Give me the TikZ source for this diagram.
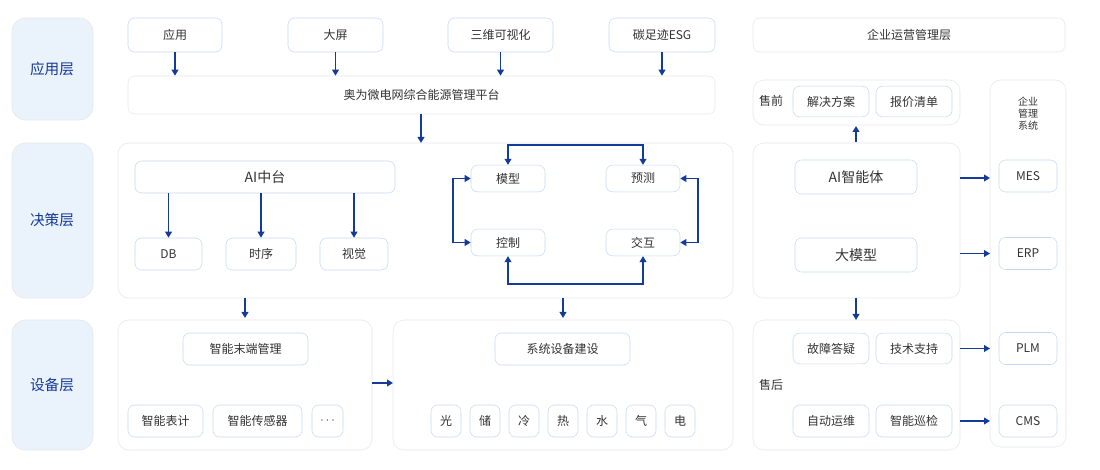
\documentclass[tikz,border=0pt]{standalone}
\usepackage{fontspec}
\setmainfont{Noto Sans CJK SC}
\usepackage{tikz}
\usetikzlibrary{arrows.meta}
\definecolor{lineblue}{HTML}{C4D8F4}
\definecolor{greyline}{HTML}{E4E7EC}
\definecolor{layerfill}{HTML}{EAF2FC}
\definecolor{arrowblue}{HTML}{143A9A}
\definecolor{txt}{HTML}{333333}
\begin{document}
\begin{tikzpicture}[x=0.75pt,y=-0.75pt,>={Triangle[length=4.5pt,width=5pt]}]
      \tikzstyle{sz}=[minimum width=#1*0.75pt];
      \tikzstyle{box}=[rounded corners=5pt,draw=lineblue,fill=white,text=txt,font=\fontsize{9}{10}\selectfont,inner sep=0pt];
      \tikzstyle{frame}=[rounded corners=8pt,draw=greyline,fill=white];
      \tikzstyle{layer}=[rounded corners=10pt,draw=greyline,fill=layerfill,text=arrowblue,font=\fontsize{11}{12}\selectfont];
      \tikzstyle{arr}=[->,draw=arrowblue,line width=1.3pt];
      \tikzstyle{lab}=[text=txt,font=\fontsize{9}{10}\selectfont,inner sep=0pt];

      \useasboundingbox (0,0) rectangle (1100,470);

      % layers
      \draw[layer] (12,18) rectangle (93,120); \node[text=arrowblue,font=\fontsize{11}{12}\selectfont] (l1) at (52,69) {应用层};
      \draw[layer] (12,143) rectangle (93,298); \node[text=arrowblue,font=\fontsize{11}{12}\selectfont] (l2) at (52,220) {决策层};
      \draw[layer] (12,320) rectangle (93,450); \node[text=arrowblue,font=\fontsize{11}{12}\selectfont] (l3) at (52,385) {设备层};

      % frames
      \draw[frame] (118,143) rectangle (733,298);
      \draw[frame] (118,320) rectangle (372,450);
      \draw[frame] (393,320) rectangle (733,450);
      \draw[frame] (753,80) rectangle (960,125);
      \draw[frame] (753,143) rectangle (960,298);
      \draw[frame] (753,320) rectangle (960,450);
      \draw[frame] (990,80) rectangle (1066,447);
      \coordinate (f1b) at (421,143);
      \coordinate (f2t) at (245,298);
      \coordinate (f3t) at (563,298);

      % application layer
      \node[box,sz=94,minimum height=25.5pt](app) at (175,35) {应用};
      \node[box,sz=95,minimum height=25.5pt](scr) at (335.5,35) {大屏};
      \node[box,sz=105,minimum height=25.5pt](vis) at (500.5,35) {三维可视化};
      \node[box,sz=106,minimum height=25.5pt](esg) at (662,35) {碳足迹ESG};
      \node[box,draw=greyline,sz=312,minimum height=25.5pt](ent) at (909,35) {企业运营管理层};
      \node[box,draw=greyline,sz=587,minimum height=28.5pt](plat) at (421.5,95) {奥为微电网综合能源管理平台};

      % decision layer
      \node[box,sz=260,minimum height=24pt,font=\fontsize{10.5}{12}\selectfont](ai) at (265,177) {AI中台};
      \node[box,sz=67,minimum height=24pt](db) at (168.5,254) {DB};
      \node[box,sz=70,minimum height=24pt](ts) at (261,254) {时序};
      \node[box,sz=68,minimum height=24pt](cv) at (354,254) {视觉};
      \node[box,sz=74,minimum height=20pt](mdl) at (508,178.5) {模型};
      \node[box,sz=74,minimum height=20pt](pre) at (643,178.5) {预测};
      \node[box,sz=74,minimum height=20pt](ctl) at (508,242.5) {控制};
      \node[box,sz=74,minimum height=20pt](itr) at (643,242.5) {交互};

      % device layer
      \node[box,sz=125,minimum height=24pt](term) at (245.5,349) {智能末端管理};
      \node[box,sz=75,minimum height=24pt](meter) at (165.5,421) {智能表计};
      \node[box,sz=89,minimum height=24pt](sens) at (257.5,421) {智能传感器};
      \node[box,sz=31,minimum height=24pt](more) at (327.5,421) {$\cdots$};
      \node[box,sz=135,minimum height=24pt](sys) at (562.5,349) {系统设备建设};
      \foreach \t [count=\i] in {光,储,冷,热,水,气,电}
        \node[box,sz=30,minimum height=24pt](d\i) at (407+39*\i,421) {\t};

      % right side
      \node[lab](pres) at (771,101) {售前};
      \node[box,sz=76,minimum height=23pt](sol) at (831,101.5) {解决方案};
      \node[box,sz=76,minimum height=23pt](quo) at (914,101.5) {报价清单};
      \node[box,sz=122,minimum height=25.5pt,font=\fontsize{10.5}{12}\selectfont](agent) at (856,177) {AI智能体};
      \node[box,sz=122,minimum height=25.5pt,font=\fontsize{10.5}{12}\selectfont](llm) at (856,255) {大模型};
      \node[lab](after) at (771,385) {售后};
      \node[box,sz=76,minimum height=23pt](faq) at (831,348.5) {故障答疑};
      \node[box,sz=76,minimum height=23pt](sup) at (914,348.5) {技术支持};
      \node[box,sz=76,minimum height=24pt](ops) at (831,421) {自动运维};
      \node[box,sz=76,minimum height=24pt](ins) at (914,421) {智能巡检};
      \node[lab,align=center,font=\fontsize{7.5}{9}\selectfont](erp0) at (1028,114) {企业\\管理\\系统};
      \node[box,sz=58,minimum height=24pt](mes) at (1028,176) {MES};
      \node[box,sz=58,minimum height=24pt](erp) at (1028,253.5) {ERP};
      \node[box,sz=58,minimum height=24pt](plm) at (1028,348.5) {PLM};
      \node[box,sz=58,minimum height=24pt](cms) at (1028,421) {CMS};

      % arrows
      \foreach \n in {app,scr,vis,esg}
        \draw[arr] (\n.south) -- (\n.south |- plat.north);
      \draw[arr] (plat.south -| f1b) -- (f1b);
      \foreach \n in {db,ts,cv}
        \draw[arr] (ai.south -| \n) -- (\n.north);
      \draw[arr,<->] (mdl.north) -- ++(0,-20) -| (pre.north);
      \draw[arr,<->] (mdl.west) -- ++(-18,0) |- (ctl.west);
      \draw[arr,<->] (pre.east) -- ++(18,0) |- (itr.east);
      \draw[arr,<->] (ctl.south) -- ++(0,28) -| (itr.south);
      \draw[arr] (f2t) -- ++(0,20);
      \draw[arr] (f3t) -- ++(0,20);
      \draw[arr] (372,383) -- (393,383);
      \draw[arr] (856,142) -- (856,126);
      \draw[arr] (856,298) -- (856,320);
      \draw[arr] (960,178) -- (990,178);
      \draw[arr] (960,253.5) -- (990,253.5);
      \draw[arr] (960,348.5) -- (990,348.5);
      \draw[arr] (960,421) -- (990,421);
\end{tikzpicture}
\end{document}
